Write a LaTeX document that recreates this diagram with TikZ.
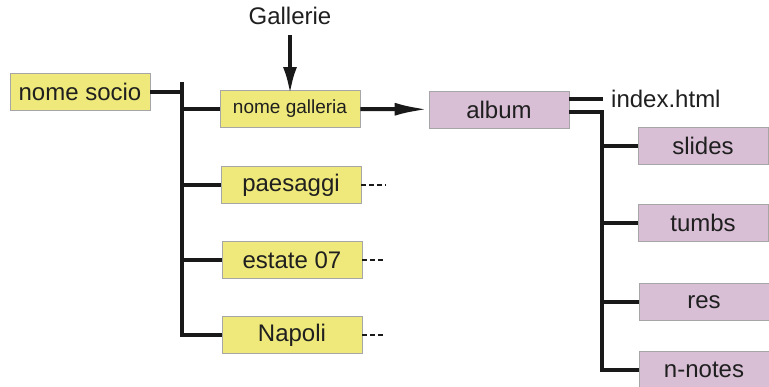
\documentclass[tikz,border=0pt]{standalone}
\usepackage{fontspec}
\setmainfont{Liberation Sans}
\usetikzlibrary{arrows.meta}

\begin{document}
\begin{tikzpicture}[x = 1pt, y = -1pt, font = \fontsize{24}{28}\selectfont, text = black!88,
		gialla/.style = {fill={rgb,255:red,238;green,233;blue,122},draw=black!35,line width=0.8pt,minimum width=140pt,minimum height=37pt,inner sep=0pt},
		rosa/.style = {fill={rgb,255:red,216;green,191;blue,213},draw=black!35,line width=0.8pt,minimum width=130pt,minimum height=37pt,inner sep=0pt},
		ramo/.style = {draw=black!90,line width=3.5pt},
		freccia/.style = {draw=black!90,line width=4pt,-{Latex[length=27pt,width=14pt]}},
		tratto/.style = {draw=black!90,line width=2pt,dash pattern=on 5pt off 3pt},]
		\useasboundingbox (0,0) rectangle (769,387);

		\node[gialla] (socio) at (80,92) {nome socio};
		\node[gialla,font=\fontsize{19}{22}\selectfont] (galleria) at (290,109) {nome galleria};
		\node[gialla] (paesaggi) at (291,185) {paesaggi};
		\node[gialla] (estate) at (292,260) {estate 07};
		\node[gialla] (napoli) at (292,335) {Napoli};
		\node (gallerie) at (290,16) {Gallerie};

		\node[rosa,minimum width=140pt] (album) at (499,109.5) {album};
		\node[anchor=west,inner sep=2pt] (index) at (609,99) {index.html};
		\node[rosa] (slides) at (703,146) {slides};
		\node[rosa] (tumbs) at (703,223) {tumbs};
		\node[rosa] (res) at (704,302) {res};
		\node[rosa] (notes) at (704,370) {n-notes};

		\coordinate (t1) at (182,82);
		\coordinate (t2) at (182,337);
		\coordinate (a1) at (602,112);
		\coordinate (a2) at (602,372);
		\coordinate (p1) at (386,185);
		\coordinate (p2) at (386,260);
		\coordinate (p3) at (386,335);

		\draw[ramo] (t1) -- (t2);
		\draw[ramo] (socio) -- (socio -| t1);
		\draw[ramo] (t1 |- galleria) -- (galleria);
		\draw[ramo] (t1 |- paesaggi) -- (paesaggi);
		\draw[ramo] (t1 |- estate) -- (estate);
		\draw[ramo] (t1 |- napoli) -- (napoli);
		\draw[tratto] (paesaggi) -- (p1);
		\draw[tratto] (estate) -- (p2);
		\draw[tratto] (napoli) -- (p3);

		\draw[freccia] (gallerie.south) ++(0,7) -- ([yshift=-4pt]galleria.north);
		\draw[freccia,-{Latex[length=34pt,width=13pt]}] (galleria) -- (album);

		\draw[ramo] (album.east |- index) -- ([xshift=-6pt]index.west);
		\draw[ramo] (album.east |- a1) -- ([xshift=1.75pt]a1);
		\draw[ramo] (a1) -- (a2);
		\draw[ramo] (a1 |- slides) -- (slides);
		\draw[ramo] (a1 |- tumbs) -- (tumbs);
		\draw[ramo] (a1 |- res) -- (res);
		\draw[ramo] (a1 |- notes) -- (notes);
	\end{tikzpicture}
\end{document}
